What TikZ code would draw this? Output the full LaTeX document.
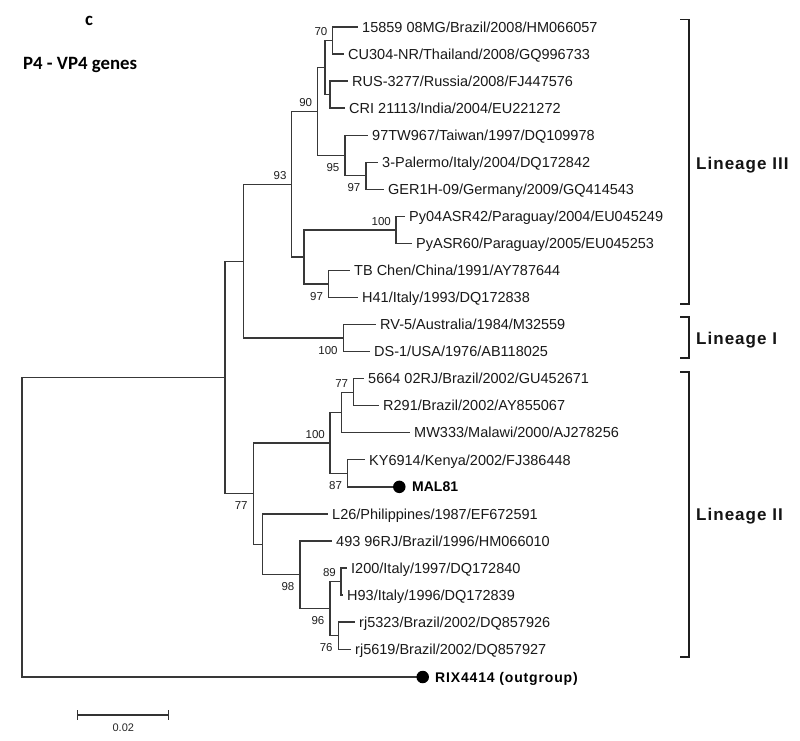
\documentclass[tikz,border=0pt]{standalone}
\usepackage{fontspec}
\setmainfont{Liberation Sans}
\newfontfamily\titlefont{Carlito}
\newfontfamily\linfont{Liberation Sans}[LetterSpace=6]
\newfontfamily\rixfont{Liberation Sans}[LetterSpace=6]
\begin{document}
\begin{tikzpicture}[x=1pt,y=-1pt,
  br/.style={line width=1.3pt, draw=black!78},
  bk/.style={line width=1.3pt, draw=black!88},
  leaf/.style={anchor=base west, inner sep=0pt, xshift=4pt, yshift=-5.2pt,
    font=\fontsize{14.5}{16}\selectfont, text=black!90},
  bs/.style={inner sep=0pt, font=\fontsize{11.5}{13}\selectfont, text=black!88},
  bsa/.style={bs, anchor=base east, xshift=-5pt, yshift=4.7pt},
  bsb/.style={bs, anchor=base east, xshift=-5.5pt, yshift=-16pt},
  dot/.style={circle, fill=black, inner sep=0pt, minimum size=12.5pt},
  lin/.style={anchor=base west, inner sep=0pt, font=\linfont\bfseries\fontsize{17}{19}\selectfont, text=black!92}
]
\fill[white] (0,0) rectangle (800,741);
\useasboundingbox (0,0) rectangle (800,741);

% title
\node[anchor=base west, inner sep=0pt, font=\titlefont\bfseries\fontsize{18.8}{20}\selectfont] (title) at (23,70) {P4 - VP4 genes};
\node[anchor=base west, inner sep=0pt, font=\titlefont\bfseries\fontsize{18.8}{20}\selectfont] (panel) at (85,26) {c};

% internal nodes
\coordinate (root) at (22,377.4);
\coordinate (H) at (225,377.4);
\coordinate (E) at (243.3,261.2);
\coordinate (A) at (291.7,184.2);
\coordinate (C) at (317.3,111.5);
\coordinate (B) at (325,67.6);
\coordinate (n70) at (332.5,40.5);
\coordinate (nRC) at (330,94.6);
\coordinate (n95) at (345,155.5);
\coordinate (n97a) at (366,175.8);
\coordinate (D) at (304,256.9);
\coordinate (n100a) at (396,229.9);
\coordinate (n97b) at (328.7,284.0);
\coordinate (LinI) at (343.3,338.1);
\coordinate (n77) at (253.3,493.6);
\coordinate (n100b) at (330,442.9);
\coordinate (F) at (341.7,412.5);
\coordinate (n77a) at (353.3,392.2);
\coordinate (n87) at (347.7,473.3);
\coordinate (G) at (262.7,544.3);
\coordinate (n98) at (300,574.8);
\coordinate (n96) at (330,608.6);
\coordinate (n89) at (341,581.5);
\coordinate (n76) at (338.3,635.6);

% leaf ends
\coordinate (l0) at (358,27.0);
\coordinate (l1) at (344,54.05);
\coordinate (l2) at (348,81.1);
\coordinate (l3) at (345,108.15);
\coordinate (l4) at (368,135.2);
\coordinate (l5) at (378,162.25);
\coordinate (l6) at (384,189.3);
\coordinate (l7) at (405,216.35);
\coordinate (l8) at (412,243.4);
\coordinate (l9) at (350,270.45);
\coordinate (l10) at (358,297.5);
\coordinate (l11) at (376,324.55);
\coordinate (l12) at (370,351.6);
\coordinate (l13) at (364,378.65);
\coordinate (l14) at (379,405.7);
\coordinate (l15) at (410,432.75);
\coordinate (l16) at (365,459.8);
\coordinate (l18) at (328,513.9);
\coordinate (l19) at (332,540.95);
\coordinate (l20) at (347,568.0);
\coordinate (l21) at (343,595.05);
\coordinate (l22) at (355,622.1);
\coordinate (l23) at (351,649.15);

% branches
\draw[br] (root) -- (H);
\draw[br] (H) |- (E);
\draw[br] (H) |- (n77);
\draw[br] (E) |- (A);
\draw[br] (E) |- (LinI);
\draw[br] (A) |- (C);
\draw[br] (A) |- (D);
\draw[br] (C) |- (B);
\draw[br] (C) |- (n95);
\draw[br] (B) |- (n70);
\draw[br] (B) |- (nRC);
\draw[br] (n70) |- (l0);
\draw[br] (n70) |- (l1);
\draw[br] (nRC) |- (l2);
\draw[br] (nRC) |- (l3);
\draw[br] (n95) |- (l4);
\draw[br] (n95) |- (n97a);
\draw[br] (n97a) |- (l5);
\draw[br] (n97a) |- (l6);
\draw[br] (D) |- (n100a);
\draw[br] (D) |- (n97b);
\draw[br] (n100a) |- (l7);
\draw[br] (n100a) |- (l8);
\draw[br] (n97b) |- (l9);
\draw[br] (n97b) |- (l10);
\draw[br] (LinI) |- (l11);
\draw[br] (LinI) |- (l12);
\draw[br] (n77) |- (n100b);
\draw[br] (n77) |- (G);
\draw[br] (n100b) |- (F);
\draw[br] (n100b) |- (n87);
\draw[br] (F) |- (n77a);
\draw[br] (F) |- (l15);
\draw[br] (n77a) |- (l13);
\draw[br] (n77a) |- (l14);
\draw[br] (n87) |- (l16);
\draw[br] (G) |- (l18);
\draw[br] (G) |- (n98);
\draw[br] (n98) |- (l19);
\draw[br] (n98) |- (n96);
\draw[br] (n96) |- (n89);
\draw[br] (n96) |- (n76);
\draw[br] (n89) |- (l20);
\draw[br] (n89) |- (l21);
\draw[br] (n76) |- (l22);
\draw[br] (n76) |- (l23);

% dotted taxa
\coordinate (cmal) at (399.3,486.85);
\coordinate (crix) at (422.7,677);
\draw[br] (n87) |- (cmal);
\draw[br] (root) |- (crix);
\node[dot] (dmal) at (cmal) {};
\node[dot] (drix) at (crix) {};
\node[anchor=base west, inner sep=0pt, font=\bfseries\fontsize{14}{16}\selectfont] (tmal) at (412,491.9) {MAL81};
\node[anchor=base west, inner sep=0pt, font=\rixfont\bfseries\fontsize{14}{16}\selectfont] (trix) at (435,682.1) {RIX4414 (outgroup)};

% leaf labels
\node[leaf] (t0) at (l0) {15859 08MG/Brazil/2008/HM066057};
\node[leaf] (t1) at (l1) {CU304-NR/Thailand/2008/GQ996733};
\node[leaf] (t2) at (l2) {RUS-3277/Russia/2008/FJ447576};
\node[leaf] (t3) at (l3) {CRI 21113/India/2004/EU221272};
\node[leaf] (t4) at (l4) {97TW967/Taiwan/1997/DQ109978};
\node[leaf] (t5) at (l5) {3-Palermo/Italy/2004/DQ172842};
\node[leaf] (t6) at (l6) {GER1H-09/Germany/2009/GQ414543};
\node[leaf] (t7) at (l7) {Py04ASR42/Paraguay/2004/EU045249};
\node[leaf] (t8) at (l8) {PyASR60/Paraguay/2005/EU045253};
\node[leaf] (t9) at (l9) {TB Chen/China/1991/AY787644};
\node[leaf] (t10) at (l10) {H41/Italy/1993/DQ172838};
\node[leaf] (t11) at (l11) {RV-5/Australia/1984/M32559};
\node[leaf] (t12) at (l12) {DS-1/USA/1976/AB118025};
\node[leaf] (t13) at (l13) {5664 02RJ/Brazil/2002/GU452671};
\node[leaf] (t14) at (l14) {R291/Brazil/2002/AY855067};
\node[leaf] (t15) at (l15) {MW333/Malawi/2000/AJ278256};
\node[leaf] (t16) at (l16) {KY6914/Kenya/2002/FJ386448};
\node[leaf] (t18) at (l18) {L26/Philippines/1987/EF672591};
\node[leaf] (t19) at (l19) {493 96RJ/Brazil/1996/HM066010};
\node[leaf] (t20) at (l20) {I200/Italy/1997/DQ172840};
\node[leaf] (t21) at (l21) {H93/Italy/1996/DQ172839};
\node[leaf] (t22) at (l22) {rj5323/Brazil/2002/DQ857926};
\node[leaf] (t23) at (l23) {rj5619/Brazil/2002/DQ857927};

% bootstrap values
\node[bsa] (b70) at (n70) {70};
\node[bsa] (b90) at (C) {90};
\node[bsa] (b93) at (A) {93};
\node[bsb] (b95) at (n95) {95};
\node[bsb] (b97a) at (n97a) {97};
\node[bsa] (b100a) at (n100a) {100};
\node[bsb] (b97b) at (n97b) {97};
\node[bsb] (b100l) at (LinI) {100};
\node[bsa] (b77a) at (n77a) {77};
\node[bsa] (b100b) at (n100b) {100};
\node[bsb] (b87) at (n87) {87};
\node[bsb] (b77) at (n77) {77};
\node[bsb] (b98) at (n98) {98};
\node[bsa] (b89) at (n89) {89};
\node[bsb] (b96) at (n96) {96};
\node[bsb] (b76) at (n76) {76};

% lineage brackets
\coordinate (k3t) at (689,19.5);
\coordinate (k3b) at (689,304);
\coordinate (k1t) at (689,317);
\coordinate (k1b) at (689,358);
\coordinate (k2t) at (689,372);
\coordinate (k2b) at (689,657);
\draw[bk] ([xshift=-9pt]k3t) -- (k3t) -- (k3b) -- ([xshift=-9pt]k3b);
\draw[bk] ([xshift=-9pt]k1t) -- (k1t) -- (k1b) -- ([xshift=-9pt]k1b);
\draw[bk] ([xshift=-9pt]k2t) -- (k2t) -- (k2b) -- ([xshift=-9pt]k2b);
\node[lin] (L3) at (696,169) {Lineage III};
\node[lin] (L1) at (696,344.3) {Lineage I};
\node[lin] (L2) at (696,520.3) {Lineage II};

% scale bar
\coordinate (s1) at (77.7,715);
\coordinate (s2) at (168.3,715);
\draw[line width=1.2pt, draw=black!80] (s1) -- (s2);
\draw[line width=1.2pt, draw=black!80] ([yshift=5pt]s1) -- ([yshift=-5pt]s1);
\draw[line width=1.2pt, draw=black!80] ([yshift=5pt]s2) -- ([yshift=-5pt]s2);
\node[inner sep=0pt, font=\fontsize{11}{13}\selectfont, text=black!85] (slab) at (123.3,727.7) {0.02};
\end{tikzpicture}
\end{document}
